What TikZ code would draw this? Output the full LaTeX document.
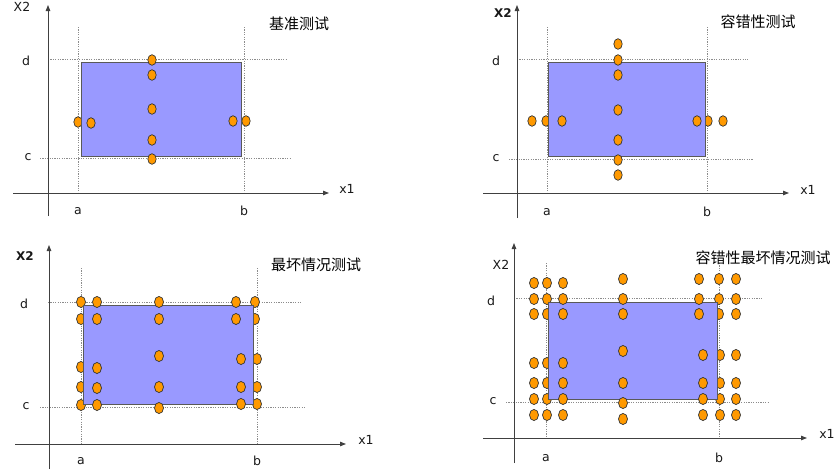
\documentclass[tikz,border=0pt]{standalone}
\usepackage{fontspec}
\setmainfont{DejaVu Sans}
\newfontfamily\cjk{Noto Sans CJK SC}
\usetikzlibrary{arrows.meta}

\definecolor{boxblue}{HTML}{9999FF}
\definecolor{ptorange}{HTML}{FF9900}

\tikzset{
  axis/.style={draw=black!75, line width=0.9pt, -{Triangle[length=6pt,width=4.5pt]}},
  guide/.style={draw=black!45, line width=0.8pt, dash pattern=on 1.2pt off 1.2pt},
  areabox/.style={fill=boxblue, draw=black!65, line width=1pt},
  tp/.style={fill=ptorange, draw=black!80, line width=0.7pt, x radius=4.2pt, y radius=5.3pt},
  lbl/.style={font=\fontsize{12.5}{14}\selectfont, text=black!90, inner sep=0pt},
  ttl/.style={font=\cjk\fontsize{15}{18}\selectfont, inner sep=0pt}
}

\begin{document}
\begin{tikzpicture}[x=1pt,y=-1pt]
\useasboundingbox (0,0) rectangle (835,469);

% basic test
\draw[guide] (78,27) -- (78,193);
\draw[guide] (244,27) -- (244,193);
\draw[guide] (48,59) -- (286,59);
\draw[guide] (40,158) -- (291,158);
\draw[axis] (13,193) -- (329,193);
\draw[axis] (48,216) -- (48,5);

\draw[tp] (78,122) circle;
\draw[tp] (246,121) circle;

\draw[areabox] (81,62) rectangle (241,156);

\draw[tp] (152,60) circle;
\draw[tp] (152,75) circle;
\draw[tp] (152,109) circle;
\draw[tp] (152,140) circle;
\draw[tp] (152,159) circle;
\draw[tp] (91,123) circle;
\draw[tp] (233,121) circle;

\node[lbl] (xa1) at (347,189) {x1};
\node[lbl] (xb1) at (22,7) {X2};
\node[lbl] (a1) at (78,211) {a};
\node[lbl] (b1) at (244,211) {b};
\node[lbl] (d1) at (26,61) {d};
\node[lbl] (c1) at (28,157) {c};
\node[ttl] (t1) at (299,24) {基准测试};


\begin{scope}[shift={(420,0)}]
% robustness test
\draw[guide] (127,27) -- (127,193);
\draw[guide] (287,27) -- (287,193);
\draw[guide] (97,59) -- (328,59);
\draw[guide] (89,159) -- (333,159);
\draw[axis] (63,193) -- (369,193);
\draw[axis] (97,218) -- (97,5);

\draw[tp] (126,121) circle;
\draw[tp] (288,121) circle;

\draw[areabox] (128,62) rectangle (285,156);

\draw[tp] (198,44) circle;
\draw[tp] (198,60) circle;
\draw[tp] (198,75) circle;
\draw[tp] (198,110) circle;
\draw[tp] (198,140) circle;
\draw[tp] (198,160) circle;
\draw[tp] (198,175) circle;
\draw[tp] (112,121) circle;
\draw[tp] (142,121) circle;
\draw[tp] (277,121) circle;
\draw[tp] (303,121) circle;

\node[lbl] (xa2) at (388,190) {x1};
\node[lbl, font=\bfseries\fontsize{12}{14}\selectfont] (xb2) at (83,13) {X2};
\node[lbl] (a2) at (127,212) {a};
\node[lbl] (b2) at (287,212) {b};
\node[lbl] (d2) at (76,61) {d};
\node[lbl] (c2) at (76,158) {c};
\node[ttl] (t2) at (338,22) {容错性测试};
\end{scope}


\begin{scope}[shift={(0,230)}, tp/.append style={x radius=4.5pt, y radius=5.6pt}]
% worst case test
\draw[guide] (81,38) -- (81,214);
\draw[guide] (257,38) -- (257,214);
\draw[guide] (48,72) -- (302,72);
\draw[guide] (40,177) -- (306,177);
\draw[axis] (15,214) -- (346,214);
\draw[axis] (49,239) -- (49,15);

\draw[tp] (81,72) circle;
\draw[tp] (81,89) circle;
\draw[tp] (81,137) circle;
\draw[tp] (81,157) circle;
\draw[tp] (81,175) circle;
\draw[tp] (255,72) circle;
\draw[tp] (255,89) circle;
\draw[tp] (257,129) circle;
\draw[tp] (257,157) circle;
\draw[tp] (257,174) circle;

\draw[areabox] (83,75) rectangle (253,174);

\draw[tp] (97,72) circle;
\draw[tp] (97,89) circle;
\draw[tp] (97,138) circle;
\draw[tp] (97,158) circle;
\draw[tp] (97,175) circle;

\draw[tp] (159,72) circle;
\draw[tp] (159,89) circle;
\draw[tp] (159,126) circle;
\draw[tp] (159,157) circle;
\draw[tp] (159,178) circle;

\draw[tp] (236,72) circle;
\draw[tp] (236,89) circle;
\draw[tp] (241,129) circle;
\draw[tp] (241,157) circle;
\draw[tp] (241,174) circle;

\node[lbl] (xa3) at (366,210) {x1};
\node[lbl, font=\bfseries\fontsize{12}{14}\selectfont] (xb3) at (25,26) {X2};
\node[lbl] (a3) at (81,231) {a};
\node[lbl] (b3) at (257,231) {b};
\node[lbl] (d3) at (24,74) {d};
\node[lbl] (c3) at (26,176) {c};
\node[ttl] (t3) at (316,35) {最坏情况测试};
\end{scope}


\begin{scope}[shift={(420,230)}, tp/.append style={x radius=4.5pt, y radius=5.6pt}]
% robust worst case test
\draw[guide] (126,33) -- (126,208);
\draw[guide] (299,33) -- (299,208);
\draw[guide] (94,68) -- (343,68);
\draw[guide] (86,172) -- (348,172);
\draw[axis] (63,208) -- (387,208);
\draw[axis] (94,233) -- (94,13);

\draw[tp] (127,53) circle;
\draw[tp] (127,69) circle;
\draw[tp] (127,84) circle;
\draw[tp] (127,133) circle;
\draw[tp] (127,153) circle;
\draw[tp] (127,169) circle;
\draw[tp] (127,185) circle;
\draw[tp] (299,49) circle;
\draw[tp] (299,69) circle;
\draw[tp] (299,84) circle;
\draw[tp] (300,125) circle;
\draw[tp] (300,153) circle;
\draw[tp] (300,169) circle;
\draw[tp] (300,185) circle;

\draw[areabox] (128,72) rectangle (297,169);

\draw[tp] (114,53) circle;
\draw[tp] (114,69) circle;
\draw[tp] (114,84) circle;
\draw[tp] (114,133) circle;
\draw[tp] (114,153) circle;
\draw[tp] (114,169) circle;
\draw[tp] (114,185) circle;

\draw[tp] (143,53) circle;
\draw[tp] (143,69) circle;
\draw[tp] (143,84) circle;
\draw[tp] (143,133) circle;
\draw[tp] (143,153) circle;
\draw[tp] (143,169) circle;
\draw[tp] (143,185) circle;

\draw[tp] (203,49) circle;
\draw[tp] (203,69) circle;
\draw[tp] (203,84) circle;
\draw[tp] (203,121) circle;
\draw[tp] (203,153) circle;
\draw[tp] (203,173) circle;
\draw[tp] (203,189) circle;

\draw[tp] (279,49) circle;
\draw[tp] (279,69) circle;
\draw[tp] (279,84) circle;
\draw[tp] (283,125) circle;
\draw[tp] (283,153) circle;
\draw[tp] (283,169) circle;
\draw[tp] (283,185) circle;

\draw[tp] (316,49) circle;
\draw[tp] (316,69) circle;
\draw[tp] (316,84) circle;
\draw[tp] (316,125) circle;
\draw[tp] (316,153) circle;
\draw[tp] (316,169) circle;
\draw[tp] (316,185) circle;

\node[lbl] (xa4) at (407,204) {x1};
\node[lbl] (xb4) at (81,35) {X2};
\node[lbl] (a4) at (126,228) {a};
\node[lbl] (b4) at (299,228) {b};
\node[lbl] (d4) at (71,71) {d};
\node[lbl] (c4) at (73,171) {c};
\node[ttl] (t4) at (343,28) {容错性最坏情况测试};
\end{scope}
\end{tikzpicture}
\end{document}
